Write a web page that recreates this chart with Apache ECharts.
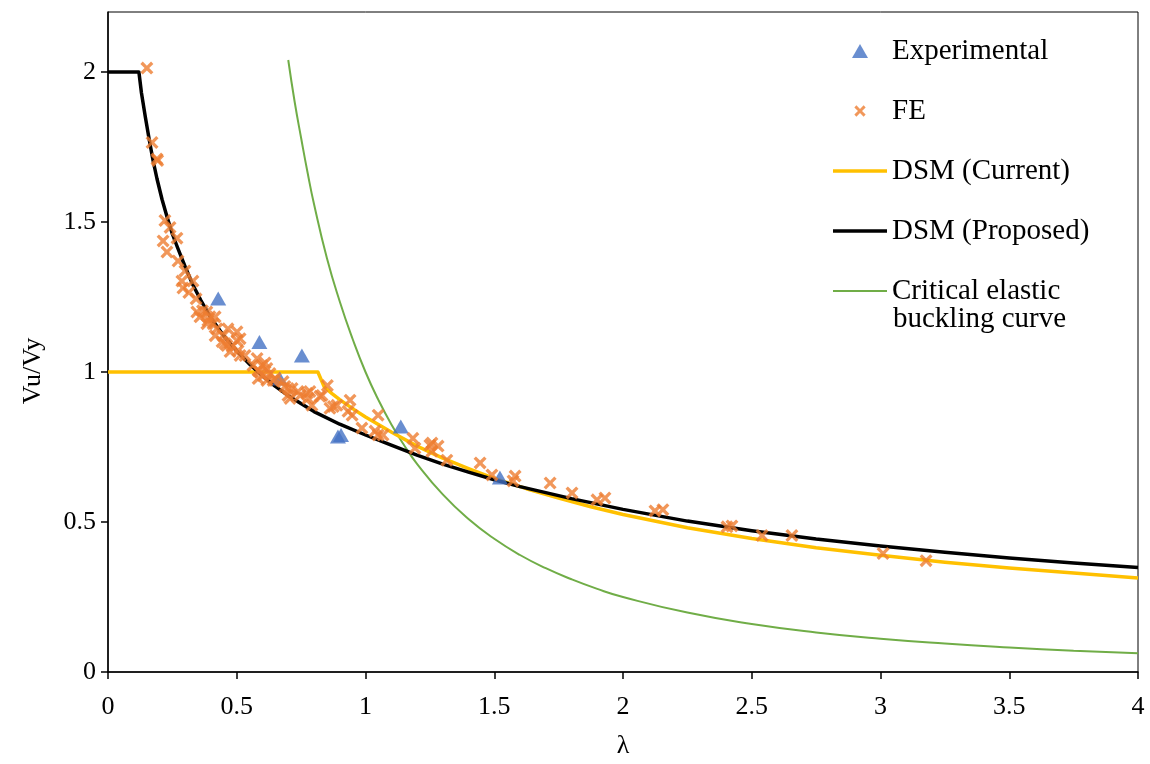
<!DOCTYPE html>
<html>
<head>
<meta charset="utf-8">
<script src="https://cdn.jsdelivr.net/npm/echarts@6/dist/echarts.min.js"></script>
<style>
html,body{margin:0;padding:0;background:#fff;}
#chart{width:1150px;height:764px;}
</style>
</head>
<body>
<div id="chart"></div>
<script>
// ---- Data ----
const seriesNames = ['Experimental', 'FE', 'DSM (Current)', 'DSM (Proposed)', 'Critical elastic buckling curve'];

const experimental = [
  [0.428, 1.245], [0.588, 1.100], [0.667, 0.978], [0.753, 1.055],
  [0.893, 0.785], [0.905, 0.790], [1.137, 0.818], [1.522, 0.648]
];

const feResults = [
  [0.151, 2.013],
  [0.171, 1.765], [0.190, 1.710], [0.193, 1.705],
  [0.221, 1.505], [0.241, 1.482], [0.268, 1.446], [0.214, 1.437], [0.229, 1.400],
  [0.272, 1.370], [0.299, 1.337], [0.287, 1.303], [0.330, 1.303], [0.291, 1.280], [0.314, 1.265], [0.342, 1.244],
  [0.345, 1.200], [0.367, 1.204], [0.357, 1.184], [0.384, 1.200], [0.396, 1.184], [0.416, 1.184], [0.384, 1.161], [0.408, 1.161], [0.388, 1.171],
  [0.423, 1.144], [0.466, 1.144], [0.447, 1.121], [0.416, 1.121], [0.443, 1.101], [0.462, 1.088], [0.501, 1.104], [0.501, 1.134], [0.513, 1.111], [0.454, 1.095], [0.482, 1.085],
  [0.474, 1.068], [0.505, 1.071], [0.513, 1.055], [0.532, 1.055],
  [0.579, 1.045], [0.563, 1.022], [0.598, 1.022], [0.583, 1.005], [0.617, 1.012], [0.602, 0.988], [0.629, 0.995], [0.583, 0.978], [0.641, 0.972], [0.610, 1.030], [0.590, 1.000],
  [0.617, 0.972], [0.649, 0.978], [0.680, 0.968], [0.687, 0.952], [0.699, 0.945], [0.715, 0.945], [0.699, 0.922], [0.707, 0.912], [0.738, 0.935], [0.746, 0.922], [0.773, 0.929], [0.784, 0.935], [0.777, 0.912], [0.792, 0.889], [0.823, 0.919], [0.831, 0.922], [0.852, 0.955],
  [0.862, 0.879], [0.875, 0.885], [0.889, 0.889], [0.940, 0.906], [0.932, 0.869], [0.948, 0.856], [0.986, 0.813], [1.037, 0.803], [1.049, 0.856], [1.049, 0.790], [1.068, 0.790],
  [1.184, 0.779], [1.192, 0.746], [1.250, 0.756], [1.258, 0.763], [1.282, 0.753], [1.258, 0.736], [1.316, 0.706],
  [1.445, 0.697], [1.491, 0.657], [1.581, 0.653], [1.573, 0.637], [1.717, 0.630], [1.802, 0.597], [1.899, 0.574], [1.930, 0.580],
  [2.124, 0.537], [2.155, 0.541], [2.404, 0.484], [2.423, 0.487], [2.540, 0.455], [2.656, 0.455], [3.010, 0.395], [3.177, 0.371]
];

const dsmCurrent = [
  [0, 1.0], [0.815, 1.0], [0.84, 0.950], [0.87, 0.928], [0.9, 0.908], [0.95, 0.878], [1.0, 0.850],
  [1.1, 0.800], [1.2, 0.753], [1.3, 0.713], [1.4, 0.678], [1.5, 0.645], [1.625, 0.611], [1.75, 0.580],
  [1.875, 0.551], [2.0, 0.525], [2.25, 0.481], [2.5, 0.445], [2.75, 0.414], [3.0, 0.389],
  [3.25, 0.366], [3.5, 0.347], [3.75, 0.330], [4.0, 0.313]
];

const dsmProposed = [
  [0, 2.0], [0.12, 2.0], [0.13, 1.93], [0.145, 1.85], [0.16, 1.775], [0.175, 1.705], [0.19, 1.645], [0.21, 1.575],
  [0.23, 1.515], [0.25, 1.46], [0.27, 1.415], [0.3, 1.35], [0.33, 1.29], [0.36, 1.24], [0.4, 1.18], [0.45, 1.12], [0.5, 1.07],
  [0.55, 1.026], [0.6, 0.987], [0.65, 0.952], [0.7, 0.921], [0.8, 0.868], [0.9, 0.826], [1.0, 0.790], [1.1, 0.756],
  [1.2, 0.723], [1.3, 0.693], [1.4, 0.666], [1.5, 0.641], [1.6, 0.618], [1.8, 0.578], [2.0, 0.542],
  [2.25, 0.503], [2.5, 0.471], [2.75, 0.443], [3.0, 0.420], [3.25, 0.399], [3.5, 0.380], [3.75, 0.363], [4.0, 0.348]
];

const criticalCurve = [
  [0.7, 2.04], [0.725, 1.90], [0.75, 1.78], [0.775, 1.665], [0.8, 1.56], [0.85, 1.38], [0.9, 1.235], [0.95, 1.11], [1.0, 1.0],
  [1.05, 0.907], [1.1, 0.826], [1.15, 0.756], [1.2, 0.694], [1.3, 0.592], [1.4, 0.51], [1.5, 0.444], [1.6, 0.39], [1.7, 0.346], [1.8, 0.309],
  [1.9, 0.277], [2.0, 0.25], [2.25, 0.198], [2.5, 0.16], [2.75, 0.132], [3.0, 0.111], [3.25, 0.095], [3.5, 0.082], [3.75, 0.071], [4.0, 0.0625]
];

// ---- Chart ----
const FONT = 'Liberation Serif';
const crossPath = 'path://M0,1.8 L1.8,0 L5,3.2 L8.2,0 L10,1.8 L6.8,5 L10,8.2 L8.2,10 L5,6.8 L1.8,10 L0,8.2 L3.2,5 Z';
// legend icons (shapes only; tiny padding dots keep the cross at marker size)
const crossIcon = 'path://M-1.2,-1.2 L-1.19,-1.2 L-1.2,-1.19 Z M11.2,11.2 L11.19,11.2 L11.2,11.19 Z M0,1.8 L1.8,0 L5,3.2 L8.2,0 L10,1.8 L6.8,5 L10,8.2 L8.2,10 L5,6.8 L1.8,10 L0,8.2 L3.2,5 Z';
const triIcon = 'path://M8,0 L16,14 L0,14 Z';
const thickLineIcon = 'path://M0,0 L54,0 L54,3.5 L0,3.5 Z';
const thinLineIcon = 'path://M0,0 L54,0 L54,2.2 L0,2.2 Z';

const chart = echarts.init(document.getElementById('chart'), null, {renderer: 'canvas'});
const option = {
  backgroundColor: '#fff',
  animation: false,
  grid: {left: 108, right: 12, top: 12, bottom: 89, show: true, borderColor: '#000', borderWidth: 1, backgroundColor: 'transparent'},
  xAxis: {
    type: 'value', min: 0, max: 4, interval: 0.5,
    name: 'λ', nameLocation: 'middle', nameGap: 61,
    nameTextStyle: {fontFamily: FONT, fontSize: 26, color: '#000'},
    axisLine: {show: true, onZero: false, lineStyle: {color: '#000', width: 1.5}},
    axisTick: {show: true, inside: false, length: 7, lineStyle: {color: '#000', width: 1.5}},
    axisLabel: {fontFamily: FONT, fontSize: 26, color: '#000', margin: 22},
    splitLine: {show: false}
  },
  yAxis: {
    type: 'value', min: 0, max: 2.2, interval: 0.5,
    name: 'Vu/Vy', nameLocation: 'middle', nameGap: 62, nameRotate: 90,
    nameTextStyle: {fontFamily: FONT, fontSize: 26, color: '#000', padding: [0, 58, 0, 0]},
    axisLine: {show: true, onZero: false, lineStyle: {color: '#000', width: 1.5}},
    axisTick: {show: true, inside: false, length: 7, lineStyle: {color: '#000', width: 1.5}},
    axisLabel: {fontFamily: FONT, fontSize: 26, color: '#000', margin: 12, showMaxLabel: false},
    splitLine: {show: false}
  },
  legend: {
    orient: 'vertical', left: 828, top: 31,
    itemWidth: 54, itemHeight: 14, itemGap: 30,
    textStyle: {fontFamily: FONT, fontSize: 29, color: '#000', lineHeight: 30},
    formatter: function (name) { return name === seriesNames[4] ? 'Critical elastic' : name; },
    data: [
      {name: seriesNames[0], icon: triIcon},
      {name: seriesNames[1], icon: crossIcon},
      {name: seriesNames[2], icon: thickLineIcon},
      {name: seriesNames[3], icon: thickLineIcon},
      {name: seriesNames[4], icon: thinLineIcon}
    ]
  },
  graphic: [{
    type: 'text', left: 893, top: 305,
    style: {text: 'buckling curve', font: '29px "Liberation Serif"', fill: '#000'}
  }],
  series: [
    {
      name: seriesNames[4], type: 'line', data: criticalCurve, symbol: 'none', smooth: true,
      lineStyle: {color: '#70AD47', width: 2}, itemStyle: {color: '#70AD47'}, z: 2
    },
    {
      name: seriesNames[2], type: 'line', data: dsmCurrent, symbol: 'none', smooth: false,
      lineStyle: {color: '#FFC000', width: 3.5, join: 'round'}, itemStyle: {color: '#FFC000'}, z: 3
    },
    {
      name: seriesNames[3], type: 'line', data: dsmProposed, symbol: 'none', smooth: false,
      lineStyle: {color: '#000000', width: 3.5, join: 'round'}, itemStyle: {color: '#000000'}, z: 4
    },
    {
      name: seriesNames[0], type: 'scatter', data: experimental, symbol: 'triangle', symbolSize: [16, 14],
      itemStyle: {color: '#4472C4'}, z: 5
    },
    {
      name: seriesNames[1], type: 'scatter', data: feResults, symbol: crossPath, symbolSize: 13,
      itemStyle: {color: '#ED7D31'}, z: 6
    }
  ]
};
chart.setOption(option);
</script>
</body>
</html>
